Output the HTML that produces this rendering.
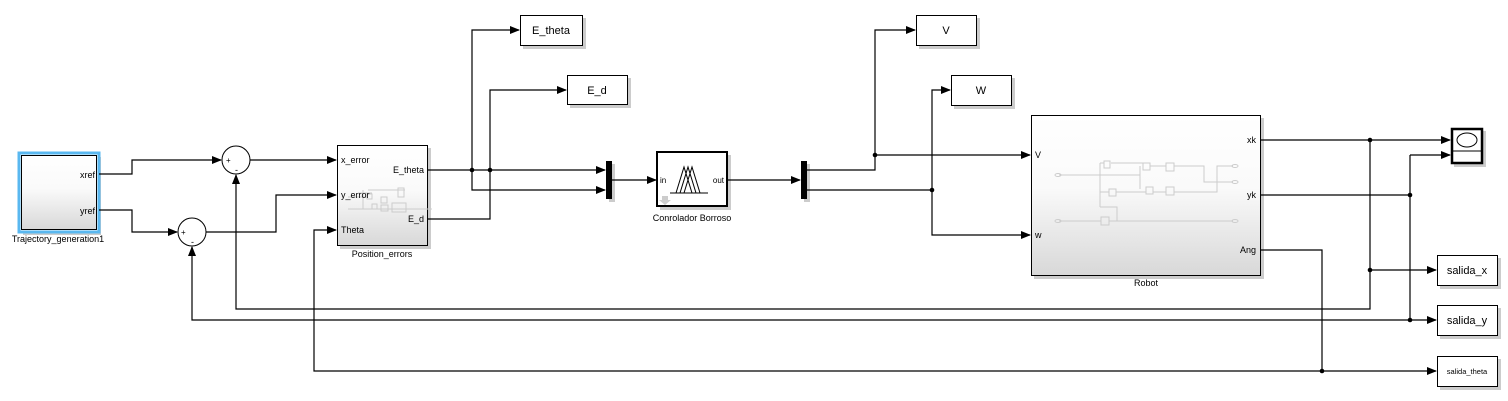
<!DOCTYPE html>
<html><head><meta charset="utf-8"><style>
html,body{margin:0;padding:0;background:#fff;}
svg{display:block;font-family:"Liberation Sans",Arial,sans-serif;}
</style></head><body>
<svg width="1508" height="401" viewBox="0 0 1508 401" xmlns="http://www.w3.org/2000/svg">
<defs>
<linearGradient id="g" x1="0" y1="0" x2="0" y2="1"><stop offset="0" stop-color="#fff"/><stop offset="0.45" stop-color="#fafafa"/><stop offset="1" stop-color="#d8d8d8"/></linearGradient>
<marker id="a" markerWidth="10" markerHeight="8" refX="9" refY="4" orient="auto" markerUnits="userSpaceOnUse"><path d="M0,0 L10,4 L0,8 z" fill="#000"/></marker>
</defs>
<!-- shadows -->
<g fill="#ccc">
<rect x="23" y="157" width="78" height="78"/>
<rect x="340" y="148" width="91" height="101"/>
<rect x="660" y="155" width="71" height="55"/>
<rect x="1034" y="118" width="230" height="161"/>
<rect x="523" y="18" width="63" height="31"/>
<rect x="570" y="78" width="61" height="30"/>
<rect x="919" y="18" width="61" height="31"/>
<rect x="954" y="78" width="61" height="31"/>
<rect x="1440" y="258" width="61" height="31"/>
<rect x="1440" y="308" width="61" height="31"/>
<rect x="1440" y="359" width="61" height="31"/>
<rect x="1454" y="131" width="32" height="36"/>
<rect x="609" y="164" width="6" height="38"/>
<rect x="804" y="164" width="6" height="38"/>
</g>
<!-- Trajectory -->
<rect x="19" y="153" width="80" height="79" fill="#fff" stroke="#5ab8f0" stroke-width="3"/>
<rect x="21.5" y="155.5" width="75" height="74" fill="url(#g)" stroke="#000" stroke-width="1"/>
<text x="95" y="178" font-size="9" text-anchor="end">xref</text>
<text x="95" y="214" font-size="9" text-anchor="end">yref</text>
<text x="58" y="242" font-size="9" text-anchor="middle">Trajectory_generation1</text>
<!-- sums -->
<circle cx="236" cy="160" r="14" fill="#fff" stroke="#000"/>
<text x="226" y="163" font-size="8">+</text><text x="235" y="173" font-size="9">-</text>
<circle cx="192" cy="232" r="14" fill="#fff" stroke="#000"/>
<text x="181" y="235" font-size="8">+</text><text x="191" y="245" font-size="9">-</text>
<!-- Position errors -->
<rect x="337.5" y="145.5" width="90" height="100" fill="url(#g)" stroke="#000"/>
<g stroke="#ccc" fill="none" stroke-width="1">
<line x1="348" y1="197" x2="355" y2="197"/><line x1="348" y1="209" x2="355" y2="209"/>
<path d="M355,197 H367 M355,209 H432 M358,193 H372 M368,190 H405 M363,190 V209"/>
<rect x="367" y="194" width="5" height="5"/><rect x="381" y="197" width="6" height="6"/>
<rect x="398" y="188" width="6" height="9"/><rect x="372" y="204" width="5" height="5"/>
<rect x="381" y="205" width="7" height="6"/><rect x="392" y="203" width="14" height="9"/>
</g>
<text x="341" y="163" font-size="9">x_error</text>
<text x="341" y="198" font-size="9">y_error</text>
<text x="341" y="233" font-size="9">Theta</text>
<text x="424" y="173" font-size="9" text-anchor="end">E_theta</text>
<text x="424" y="222" font-size="9" text-anchor="end">E_d</text>
<text x="382" y="257" font-size="9" text-anchor="middle">Position_errors</text>
<!-- Muxes -->
<rect x="606" y="161" width="6" height="38" fill="#000"/>
<rect x="801" y="161" width="6" height="38" fill="#000"/>
<!-- Fuzzy -->
<rect x="657" y="152" width="70" height="54" fill="#fff" stroke="#000" stroke-width="2"/>
<g stroke="#000" fill="none" stroke-width="1">
<line x1="670" y1="193" x2="708" y2="193"/>
<path d="M676,193 L684,167 L692,193 M680,193 L688,167 L696,193 M684,193 L692,167 L700,193"/>
</g>
<path d="M662,196 H668 V200 H671 L665,205 L659,200 H662 Z" fill="#ccc"/>
<text x="660" y="183" font-size="8">in</text>
<text x="724" y="183" font-size="8" text-anchor="end">out</text>
<text x="692" y="221" font-size="9" text-anchor="middle">Conrolador Borroso</text>
<!-- small blocks -->
<g fill="#fff" stroke="#000">
<rect x="520.5" y="15.5" width="62" height="30"/>
<rect x="567.5" y="75.5" width="60" height="29"/>
<rect x="916.5" y="15.5" width="60" height="30"/>
<rect x="951.5" y="75.5" width="60" height="30"/>
<rect x="1437.5" y="255.5" width="60" height="30"/>
<rect x="1437.5" y="305.5" width="60" height="30"/>
<rect x="1437.5" y="356.5" width="60" height="30"/>
</g>
<g font-size="11" text-anchor="middle">
<text x="551" y="34">E_theta</text>
<text x="597" y="94">E_d</text>
<text x="946" y="34">V</text>
<text x="981" y="94">W</text>
<text x="1467" y="274">salida_x</text>
<text x="1467" y="324">salida_y</text>
<text x="1467" y="374" font-size="7.5">salida_theta</text>
</g>
<!-- Scope -->
<rect x="1452" y="129" width="30" height="34" fill="#fff" stroke="#000" stroke-width="2.5"/>
<line x1="1452" y1="151" x2="1482" y2="151" stroke="#000"/>
<ellipse cx="1467" cy="140" rx="10" ry="7" fill="#fff" stroke="#000"/>
<!-- Robot -->
<rect x="1031.5" y="115.5" width="229" height="160" fill="url(#g)" stroke="#000"/>
<g stroke="#ccc" fill="none">
<path d="M1059,175 H1140 M1140,175 V189 M1140,166 V189 M1100,163 V207 M1100,163 H1104 M1111,163 H1143 M1150,166 H1166 M1174,166 H1204 V182 H1233 M1100,192 H1109 M1116,192 H1146 M1153,192 H1166 M1174,192 H1217 V166 H1233 M1100,207 H1117 V221 M1059,221 H1101 M1109,221 H1233"/>
<rect x="1104" y="161" width="6" height="7"/><rect x="1143" y="163" width="7" height="7"/>
<rect x="1166" y="163" width="8" height="8"/><rect x="1109" y="189" width="7" height="7"/>
<rect x="1146" y="187" width="7" height="7"/><rect x="1166" y="187" width="8" height="8"/>
<rect x="1101" y="217" width="8" height="8"/>
<ellipse cx="1058" cy="175" rx="3" ry="1.5"/><ellipse cx="1058" cy="221" rx="3" ry="1.5"/>
<ellipse cx="1235" cy="166" rx="3" ry="1.5"/><ellipse cx="1235" cy="182" rx="3" ry="1.5"/><ellipse cx="1235" cy="221" rx="3" ry="1.5"/>
</g>
<text x="1035" y="158" font-size="9">V</text>
<text x="1035" y="238" font-size="9">w</text>
<text x="1256" y="143" font-size="9" text-anchor="end">xk</text>
<text x="1256" y="198" font-size="9" text-anchor="end">yk</text>
<text x="1256" y="253" font-size="9" text-anchor="end">Ang</text>
<text x="1146" y="286" font-size="9" text-anchor="middle">Robot</text>
<!-- wires -->
<g stroke="#000" fill="none" stroke-width="1.2">
<path d="M99,174 H132 V160 H221" marker-end="url(#a)"/>
<path d="M99,210 H132 V232 H177" marker-end="url(#a)"/>
<path d="M250,160 H336" marker-end="url(#a)"/>
<path d="M206,232 H276 V195 H336" marker-end="url(#a)"/>
<path d="M1322,371 H314 V230 H336" marker-end="url(#a)"/>
<path d="M1370,140 V309 H236 V175" marker-end="url(#a)"/>
<path d="M1410,155 V320 H192 V247" marker-end="url(#a)"/>
<path d="M427,170 H605" marker-end="url(#a)"/>
<path d="M472,170 V30 H519" marker-end="url(#a)"/>
<path d="M472,170 V190 H605" marker-end="url(#a)"/>
<path d="M427,219 H490 V90 H566" marker-end="url(#a)"/>
<path d="M612,180 H656" marker-end="url(#a)"/>
<path d="M727,180 H800" marker-end="url(#a)"/>
<path d="M807,170 H875 V155 H1030" marker-end="url(#a)"/>
<path d="M875,155 V30 H915" marker-end="url(#a)"/>
<path d="M807,190 H932 V235 H1030" marker-end="url(#a)"/>
<path d="M932,190 V90 H950" marker-end="url(#a)"/>
<path d="M1260,140 H1450" marker-end="url(#a)"/>
<path d="M1410,155 H1450" marker-end="url(#a)"/>
<path d="M1260,195 H1410"/>
<path d="M1370,270 H1436" marker-end="url(#a)"/>
<path d="M1410,320 H1436" marker-end="url(#a)"/>
<path d="M1260,250 H1322 V371 H1436" marker-end="url(#a)"/>
</g>
<g fill="#000">
<circle cx="472" cy="170" r="2.3"/><circle cx="490" cy="170" r="2.3"/>
<circle cx="875" cy="155" r="2.3"/><circle cx="932" cy="190" r="2.3"/>
<circle cx="1370" cy="140" r="2.3"/><circle cx="1410" cy="195" r="2.3"/>
<circle cx="1370" cy="270" r="2.3"/><circle cx="1410" cy="320" r="2.3"/>
<circle cx="1322" cy="371" r="2.3"/>
</g>
</svg>
</body></html>
